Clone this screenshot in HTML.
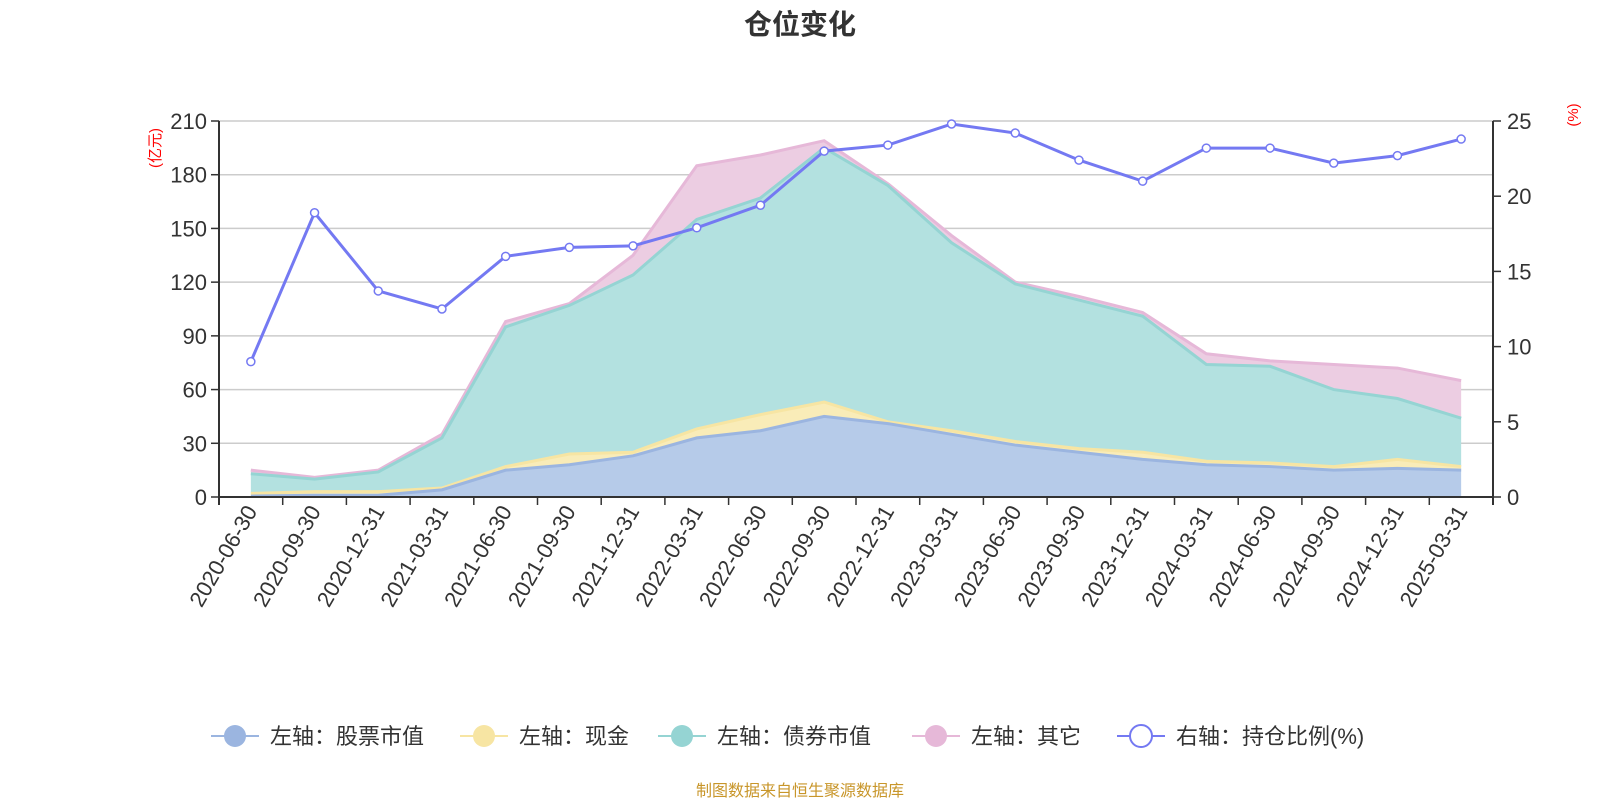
<!DOCTYPE html>
<html><head><meta charset="utf-8"><style>
body{margin:0;background:#fff;width:1600px;height:800px;overflow:hidden}
svg text{font-family:"Liberation Sans","Noto Sans CJK SC",sans-serif}
</style></head><body>
<svg id="s" width="1600" height="800" xmlns="http://www.w3.org/2000/svg">
<text x="800" y="34" text-anchor="middle" font-size="28" font-weight="bold" fill="#333">仓位变化</text>
<text x="800" y="796" text-anchor="middle" font-size="16" fill="#c8962a">制图数据来自恒生聚源数据库</text>
</svg>
<script>
const s=document.getElementById('s');
const NS='http://www.w3.org/2000/svg';
function el(t,a,txt){const e=document.createElementNS(NS,t);for(const k in a)e.setAttribute(k,a[k]);if(txt!==undefined)e.textContent=txt;s.appendChild(e);return e;}
const L=219,R=1493,T=121,B=497;
const cats=['2020-06-30','2020-09-30','2020-12-31','2021-03-31','2021-06-30','2021-09-30','2021-12-31','2022-03-31','2022-06-30','2022-09-30','2022-12-31','2023-03-31','2023-06-30','2023-09-30','2023-12-31','2024-03-31','2024-06-30','2024-09-30','2024-12-31','2025-03-31'];
const n=cats.length,bw=(R-L)/n;
const X=i=>L+bw*(i+0.5);
const YL=v=>B-v*(B-T)/210, YR=v=>B-v*(B-T)/25;
for(let k=0;k<=7;k++){const y=YL(k*30);el('line',{x1:L,x2:R,y1:y,y2:y,stroke:'#ccc','stroke-width':1.5});
el('line',{x1:L-8,x2:L,y1:y,y2:y,stroke:'#333','stroke-width':1.5});
el('text',{x:L-12,y:y+8,'text-anchor':'end','font-size':22,fill:'#333'},String(k*30));}
for(let k=0;k<=5;k++){const y=YR(k*5);el('line',{x1:R,x2:R+8,y1:y,y2:y,stroke:'#333','stroke-width':1.5});
el('text',{x:R+14,y:y+8,'font-size':22,fill:'#333'},String(k*5));}
el('text',{transform:'translate(160,148) rotate(-90)','text-anchor':'middle','font-size':15,fill:'red'},'(亿元)');
el('text',{transform:'translate(1578,115) rotate(-90)','text-anchor':'middle','font-size':15,fill:'red'},'(%)');
const stock=[0.5,1,1,4,15,18,23,33,37,45,41,35,29,25,21,18,17,15,16,15];
const cash=[2,3,3,5,17,24,25,38,46,53,42,37,31,27,25,20,19,17,21,17];
const bond=[13,10,14,33,95,107,124,155,167,195,174,142,119,110,101,74,73,60,55,44];
const tot=[15,11,15,35,98,108,135,185,191,199,175,146,120,112,103,80,76,74,72,65];
const ratio=[9.0,18.9,13.7,12.5,16.0,16.6,16.7,17.9,19.4,23.0,23.4,24.8,24.2,22.4,21.0,23.2,23.2,22.2,22.7,23.8];
function area(top,bot,fill,line){
 let d='M'+top.map((v,i)=>X(i)+','+YL(v)).join('L');
 for(let i=n-1;i>=0;i--)d+='L'+X(i)+','+YL(bot?bot[i]:0);
 el('path',{d:d+'Z',fill:fill});
 el('polyline',{points:top.map((v,i)=>X(i)+','+YL(v)).join(' '),fill:'none',stroke:line,'stroke-width':3});
}
area(tot,bond,'#eccde2','#e6b8d8');
area(bond,cash,'#b3e1e0','#95d4d3');
area(cash,stock,'#f9ecb8','#f7e5a3');
area(stock,null,'#b6cbe9','#9bb5e0');
el('line',{x1:L,x2:L,y1:T,y2:B+8,stroke:'#333','stroke-width':2});
el('line',{x1:R,x2:R,y1:T,y2:B+8,stroke:'#333','stroke-width':2});
el('line',{x1:L,x2:R,y1:B,y2:B,stroke:'#333','stroke-width':2});
for(let i=0;i<=n;i++){const x=L+bw*i;el('line',{x1:x,x2:x,y1:B,y2:B+8,stroke:'#333','stroke-width':1.5});}
cats.forEach((c,i)=>el('text',{transform:`translate(${X(i)+7},${B+14}) rotate(-60)`,'text-anchor':'end','font-size':22,fill:'#333'},c));
el('polyline',{points:ratio.map((v,i)=>X(i)+','+YR(v)).join(' '),fill:'none',stroke:'#7479f2','stroke-width':3});
ratio.forEach((v,i)=>el('circle',{cx:X(i),cy:YR(v),r:4,fill:'#fff',stroke:'#7479f2','stroke-width':1.5}));
const lg=[[235,'#9bb5e0','左轴：股票市值',0],[484,'#f7e5a3','左轴：现金',0],[682,'#95d4d3','左轴：债券市值',0],[936,'#e6b8d8','左轴：其它',0],[1141,'#7479f2','右轴：持仓比例(%)',1]];
lg.forEach(([x,c,t,o])=>{const y=736;
 el('line',{x1:x-24,x2:x+24,y1:y,y2:y,stroke:c,'stroke-width':2});
 el('circle',{cx:x,cy:y,r:11,fill:o?'#fff':c,stroke:c,'stroke-width':o?2:0});
 el('text',{x:x+35,y:y+8,'font-size':22,fill:'#333'},t);});
</script>
</body></html>
